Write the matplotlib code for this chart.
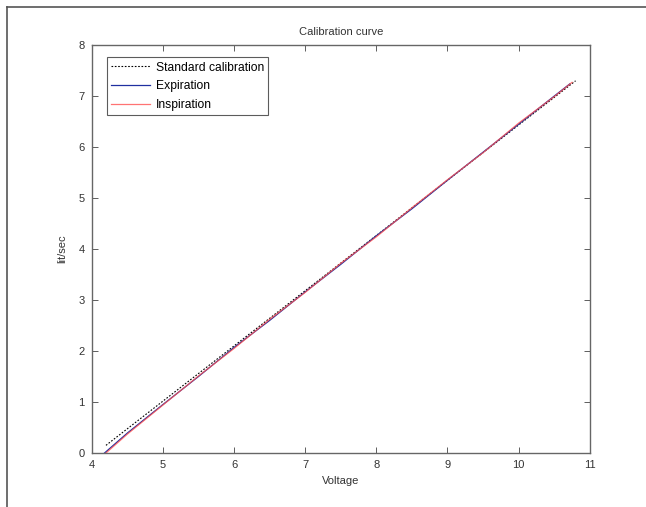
import matplotlib
matplotlib.use("Agg")
import matplotlib.pyplot as plt
from matplotlib.lines import Line2D

plt.rcParams['font.family'] = ['Liberation Sans', 'DejaVu Sans']

# standard calibration (straight line)
std_x = [4.2, 10.8]
std_y = [0.15, 7.30]

# measured curves
exp_x = [4.18, 4.5, 5.0, 5.5, 6.0, 6.5, 7.0, 7.5, 8.0, 8.5, 9.0, 9.5, 10.0, 10.5, 10.72]
exp_y = [0.0, 0.39, 0.95, 1.50, 2.07, 2.60, 3.16, 3.70, 4.26, 4.79, 5.35, 5.90, 6.45, 7.00, 7.24]
insp_x = [4.2, 4.5, 5.0, 5.5, 6.0, 6.5, 7.0, 7.5, 8.0, 8.5, 9.0, 9.5, 10.0, 10.5, 10.75]
insp_y = [0.0, 0.37, 0.94, 1.51, 2.05, 2.62, 3.15, 3.72, 4.24, 4.81, 5.36, 5.89, 6.47, 6.99, 7.27]

fig = plt.figure(figsize=(6.46, 5.07), dpi=100)
ax = fig.add_axes([0.142, 0.1065, 0.771, 0.8045])

ax.plot(std_x, std_y, color='black', lw=0.8, linestyle=(0, (1.5, 1.5)), label='Standard calibration')
ax.plot(exp_x, exp_y, color='#2030a0', lw=0.9, label='Expiration')
ax.plot(insp_x, insp_y, color='#ff5050', lw=0.9, alpha=0.8, label='Inspiration')

ax.set_xlim(4, 11)
ax.set_ylim(0, 8)
ax.set_xticks(range(4, 12))
ax.set_yticks(range(0, 9))
ax.tick_params(direction='in', top=True, right=True, labelsize=8, length=4, width=0.6, colors='#444444', labelcolor='#333333', pad=5)
for s in ax.spines.values():
    s.set_color('#666666')
    s.set_linewidth(1.0)

ax.set_title('Calibration curve', fontsize=8, color='#333333', pad=7)
ax.set_xlabel('Voltage', fontsize=8, color='#333333', labelpad=4)
ax.set_ylabel('lit/sec', fontsize=8, color='#333333', labelpad=8)

leg = ax.legend(loc='upper left', bbox_to_anchor=(0.03, 0.97), fontsize=8.7, frameon=True, fancybox=False,
                edgecolor='#333333', handlelength=3.2, handletextpad=0.5, borderpad=0.35, labelspacing=0.55, borderaxespad=0)
leg.get_frame().set_linewidth(0.8)

# frame around the figure (top and left edges visible)
fig.add_artist(Line2D([0.011, 1.0], [0.986, 0.986], transform=fig.transFigure, color='#555555', lw=1.2))
fig.add_artist(Line2D([0.011, 0.011], [0.0, 0.986], transform=fig.transFigure, color='#555555', lw=1.2))

fig.savefig('out.png', dpi=100, facecolor='white')
